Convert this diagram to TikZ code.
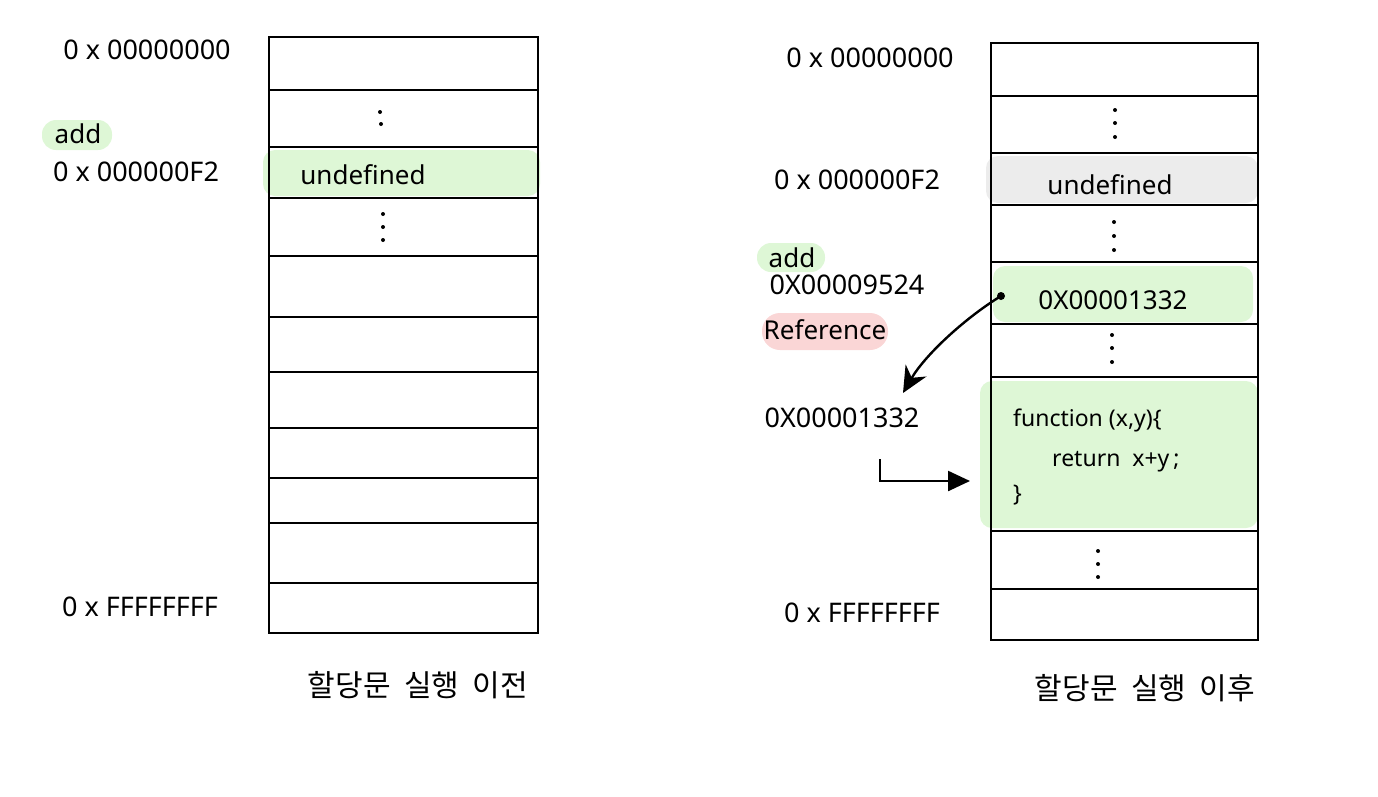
\documentclass[tikz,border=0pt]{standalone}
\usepackage{fontspec}
\setmainfont{Noto Sans}
\newfontfamily\krfont{Noto Sans CJK KR}
\usetikzlibrary{arrows.meta,calc}
\definecolor{hlgreen}{RGB}{222,247,214}
\definecolor{hlgray}{RGB}{236,236,236}
\definecolor{hlpink}{RGB}{250,214,214}
\begin{document}
\begin{tikzpicture}[x=1pt,y=-1pt,
  cell/.style={draw, line width=2.2pt, anchor=north west, inner sep=0pt, outer sep=0pt},
  addr/.style={font=\fontsize{27}{30}\selectfont, inner sep=0pt},
  val/.style={font=\fontsize{26}{30}\selectfont, inner sep=0pt},
  code/.style={font=\fontsize{23}{26}\selectfont, inner sep=0pt, anchor=west},
  captext/.style={font=\krfont\fontsize{30}{34}\selectfont, inner sep=0pt},
  hl/.style={rounded corners=12pt},
  dotmark/.style={fill=black}]
\useasboundingbox (0,0) rectangle (1378,796);

% ---------- highlights ----------
\fill[hlgreen, hl] (263,150) rectangle (540,196);
\fill[hlgreen, rounded corners=14pt] (42,120) rectangle (112,150);
\fill[hlgray, hl] (986,156) rectangle (1258,203);
\fill[hlgreen, hl] (993,266) rectangle (1253,322);
\fill[hlgreen, hl] (980,381) rectangle (1258,528);
\fill[hlgreen, rounded corners=14pt] (757,243) rectangle (825,272);
\fill[hlpink, rounded corners=18pt] (762,313) rectangle (888,350);

% ---------- left table ----------
\foreach \i/\t/\b in {1/37/90,2/90/147,3/147/198,4/198/256,5/256/317,6/317/372,7/372/428,8/428/478,9/478/523,10/523/583,11/583/633}
  \node[cell, minimum width=269pt, minimum height={(\b-\t)*1pt}] (l\i) at (269,\t) {};

% ---------- right table ----------
\foreach \i/\t/\b in {1/43/96,2/96/153,3/153/205,4/205/262,5/262/324,6/324/377,7/377/531,8/531/589,9/589/640}
  \node[cell, minimum width=267pt, minimum height={(\b-\t)*1pt}] (r\i) at (991,\t) {};

% ---------- dots ----------
\foreach \x/\y in {380/112,381/124, 383/214,383/227,383/240,
                   1115/110,1115/123,1115/137, 1114/222,1114/236,1114/250,
                   1112/335,1112/348,1112/362, 1098/551,1098/564,1098/577}
  \fill[dotmark] (\x,\y) circle (2pt);

% ---------- left labels ----------
\node[addr] (la0) at (147,50) {0 x 00000000};
\node[val] (ladd) at (78,134) {add};
\node[addr] (laF2) at (136,172) {0 x 000000F2};
\node[addr] (laFF) at (140,607) {0 x FFFFFFFF};
\node[val] (lundef) at (363,175) {undefined};
\node[captext] (lcap) at (418,685) {할당문\ \ 실행\ \ 이전};

% ---------- right labels ----------
\node[addr] (ra0) at (870,58) {0 x 00000000};
\node[addr] (raF2) at (857,180) {0 x 000000F2};
\node[val] (radd) at (792,258) {add};
\node[addr] (ra9524) at (847,285) {0X00009524};
\node[val] (rref) at (825,330) {Reference};
\node[addr] (ra1332) at (842,418) {0X00001332};
\node[addr] (raFF) at (862,613) {0 x FFFFFFFF};
\node[val] (rundef) at (1110,185) {undefined};
\node[val] (rptr) at (1113,300) {0X00001332};
\node[code] (fn1) at (1013,420) {function (x,y)\{};
\node[code] (fn2) at (1052,462) {return\ \ x+y\,;};
\node[code] (fn3) at (1013,495) {\}};
\node[captext] (rcap) at (1145,688) {할당문\ \ 실행\ \ 이후};

% ---------- arrows ----------
\coordinate (pdot) at (1001,296);
\fill (pdot) circle (4pt);
\coordinate (a1end) at (903,393);
\draw[line width=2.4pt, -{Stealth[length=26pt,width=24pt]}] (pdot) .. controls (965,318) and (925,355) .. (a1end);
\coordinate (a2start) at (880,459);
\coordinate (a2end) at (970,481);
\draw[line width=2.4pt, -{Triangle[length=22pt,width=20pt]}] (a2start) |- (a2end);
\end{tikzpicture}
\end{document}
